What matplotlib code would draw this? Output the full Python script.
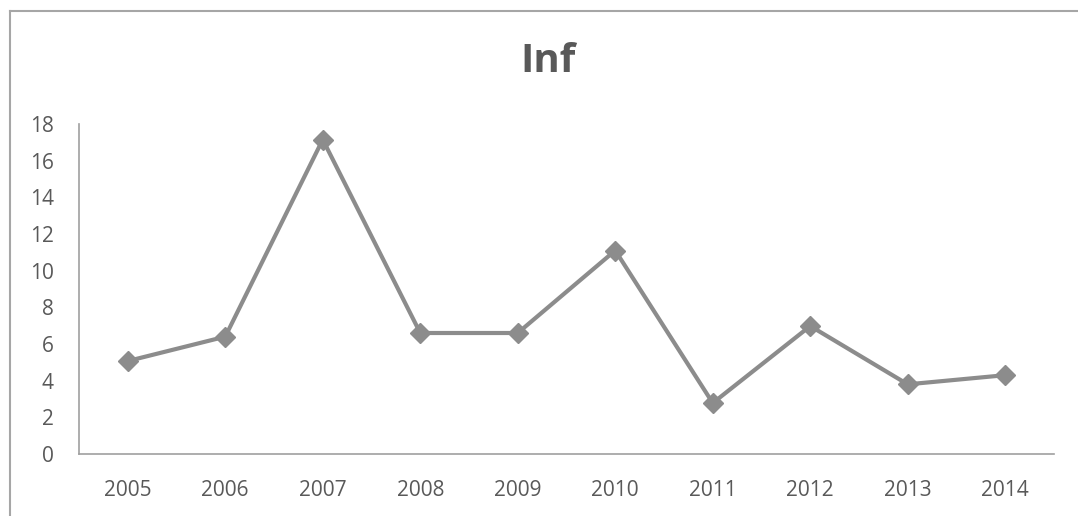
import matplotlib
matplotlib.use("Agg")
import matplotlib.pyplot as plt
from matplotlib.lines import Line2D

# values
years = ['2005', '2006', '2007', '2008', '2009', '2010', '2011', '2012', '2013', '2014']
inf = [5.07, 6.40, 17.15, 6.60, 6.60, 11.10, 2.78, 6.98, 3.80, 4.30]
yticks = [0, 2, 4, 6, 8, 10, 12, 14, 16, 18]

plt.rcParams['font.family'] = ['Open Sans', 'DejaVu Sans']

W, H = 1078, 516
fig = plt.figure(figsize=(W / 100, H / 100), dpi=100)
fig.patch.set_facecolor('white')

# outer chart border (only left and top visible)
fig.add_artist(Line2D([10 / W, 10 / W], [0, 1 - 11 / H], transform=fig.transFigure,
                      color='#A6A6A6', lw=1.5))
fig.add_artist(Line2D([10 / W, 1], [1 - 11 / H, 1 - 11 / H], transform=fig.transFigure,
                      color='#A6A6A6', lw=1.5))

ax = fig.add_axes([79 / W, (H - 454) / H, 975 / W, 330 / H])
x = range(len(years))
ax.plot(x, inf, color='#8C8C8C', lw=3, marker='D', markersize=10,
        markerfacecolor='#8C8C8C', markeredgecolor='#8C8C8C', zorder=3)

ax.set_xlim(-0.5, len(years) - 0.5)
ax.set_ylim(0, 18)
ax.set_yticks(yticks)
ax.set_xticks(list(x))
ax.set_xticklabels(years)

for s in ['top', 'right']:
    ax.spines[s].set_visible(False)
for s in ['left', 'bottom']:
    ax.spines[s].set_color('#A0A0A0')
    ax.spines[s].set_linewidth(1.2)

ax.tick_params(axis='both', length=0, labelsize=15, colors='#595959')
ax.tick_params(axis='y', pad=18)
ax.tick_params(axis='x', pad=19)

fig.text(548 / W, 1 - 62 / H, 'Inf', ha='center', va='center', fontsize=29,
         fontweight='bold', color='#595959')

fig.savefig('out.png', dpi=100)
